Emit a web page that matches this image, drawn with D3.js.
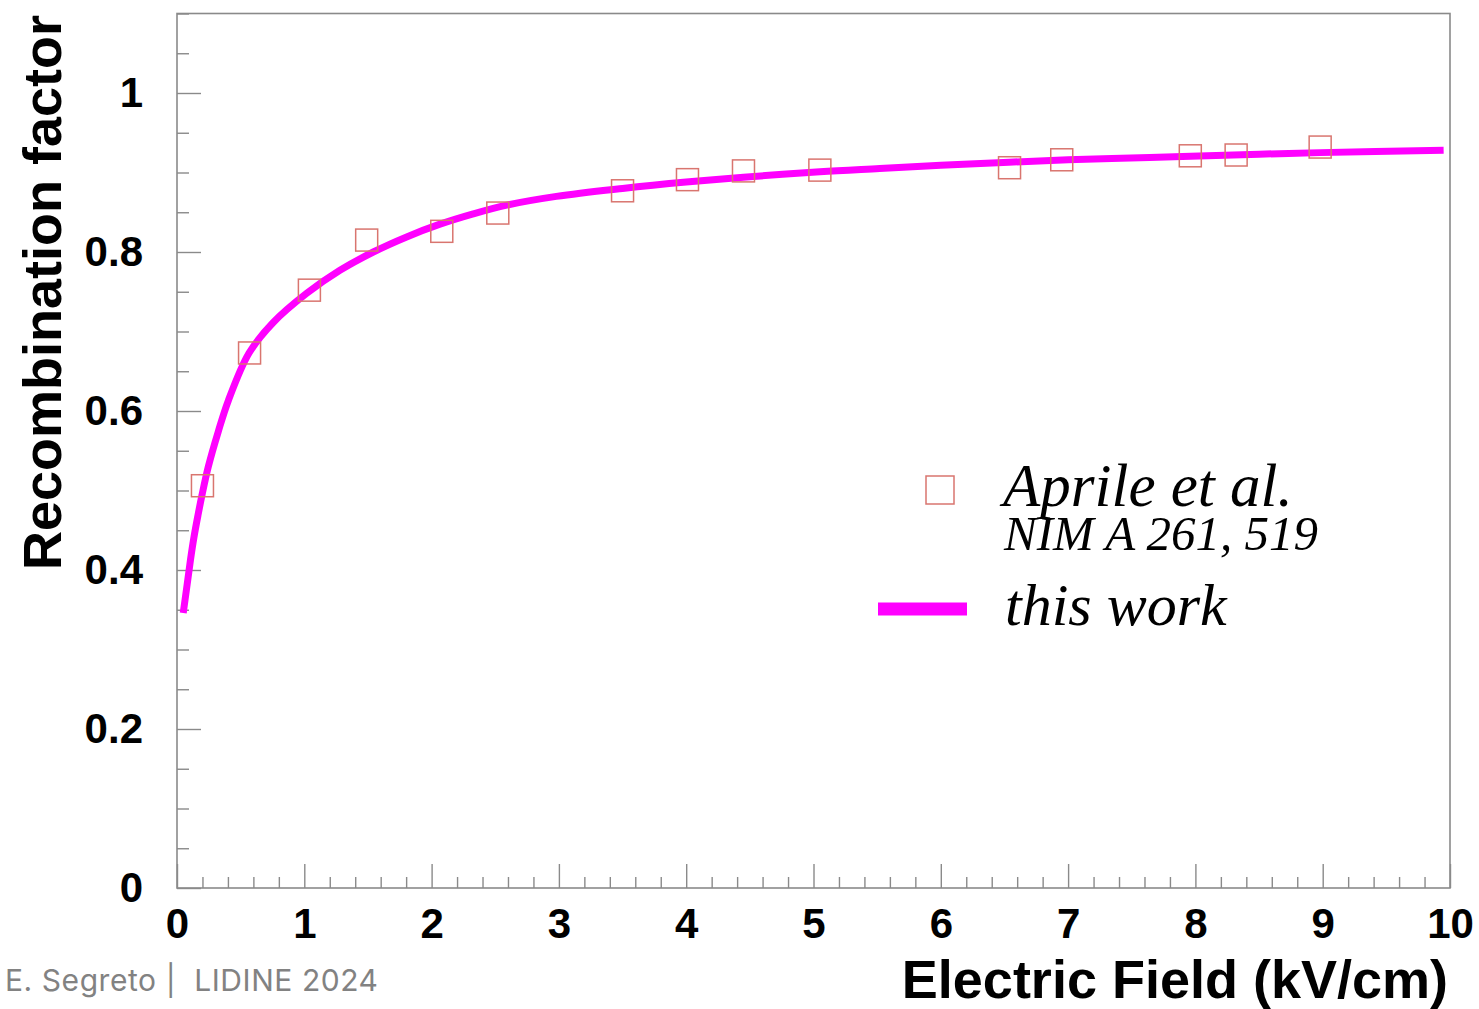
<!DOCTYPE html>
<html>
<head>
<meta charset="utf-8">
<script src="https://cdn.jsdelivr.net/npm/d3@7/dist/d3.min.js"></script>
<style>
  html, body { margin: 0; padding: 0; background: #fff; }
  svg { display: block; }
</style>
</head>
<body>
<svg id="chart" width="1479" height="1009"></svg>
<script>
// Measured recombination factor (Aprile et al., NIM A 261, 519)
const aprileField = [0.20, 0.57, 1.04, 1.49, 2.08, 2.52, 3.50, 4.01, 4.45, 5.05, 6.54, 6.95, 7.96, 8.32, 8.98];
const aprileR     = [0.506, 0.673, 0.752, 0.815, 0.826, 0.849, 0.877, 0.891, 0.902, 0.903, 0.906, 0.916, 0.921, 0.922, 0.932];

// Model curve ("this work")
const curveField = [0.049, 0.079, 0.106, 0.134, 0.165, 0.196, 0.246, 0.324, 0.403, 0.566, 0.754, 1.019, 1.28, 1.542, 1.804, 2.066, 2.327, 2.59, 2.98, 3.5, 4.0, 4.45, 5.05, 5.52, 6.0, 7.0, 7.64, 8.5, 8.98, 9.95];
const curveR     = [0.346, 0.381, 0.413, 0.442, 0.469, 0.494, 0.530, 0.574, 0.613, 0.673, 0.711, 0.748, 0.777, 0.800, 0.819, 0.835, 0.848, 0.859, 0.870, 0.880, 0.888, 0.894, 0.901, 0.905, 0.909, 0.916, 0.919, 0.923, 0.925, 0.928];

// Axis ticks
const xMajorTicks = [0, 1, 2, 3, 4, 5, 6, 7, 8, 9, 10];
const yMajorTicks = [0, 0.2, 0.4, 0.6, 0.8, 1];
const yTickLabels = ["0", "0.2", "0.4", "0.6", "0.8", "1"];

(function draw() {
  const svg = d3.select("#chart");
  const plotLeft = 177, plotRight = 1450, plotTop = 13.5, plotBottom = 888;

  const x = d3.scaleLinear().domain([0, 10]).range([plotLeft, plotRight]);
  const y = d3.scaleLinear().domain([0, 1.1]).range([plotBottom, plotTop]);

  const frameColor = "#8a8a8a";
  const tickFont = "'Liberation Sans', Arial, Helvetica, sans-serif";

  // Frame
  svg.append("rect")
    .attr("x", plotLeft).attr("y", plotTop)
    .attr("width", plotRight - plotLeft).attr("height", plotBottom - plotTop)
    .attr("fill", "none").attr("stroke", frameColor).attr("stroke-width", 1.6);

  // X axis: minor ticks every 0.2, major every 1, all pointing into the frame
  const xMinor = d3.range(0, 10.001, 0.2).map(v => +v.toFixed(2)).filter(v => Math.abs(v - Math.round(v)) > 1e-6);
  const gxMinor = svg.append("g").attr("transform", `translate(0,${plotBottom})`)
    .call(d3.axisBottom(x).tickValues(xMinor).tickSize(-11).tickFormat(""));
  const gx = svg.append("g").attr("transform", `translate(0,${plotBottom})`)
    .call(d3.axisBottom(x).tickValues(xMajorTicks).tickSize(-24).tickPadding(20).tickFormat(d3.format("d")));

  // Y axis: minor ticks every 0.05, major every 0.2
  const yMinor = d3.range(0, 1.1001, 0.05).map(v => +v.toFixed(3)).filter(v => Math.abs(v * 5 - Math.round(v * 5)) > 1e-6);
  const gyMinor = svg.append("g").attr("transform", `translate(${plotLeft},0)`)
    .call(d3.axisLeft(y).tickValues(yMinor).tickSize(-12).tickFormat(""));
  const gy = svg.append("g").attr("transform", `translate(${plotLeft},0)`)
    .call(d3.axisLeft(y).tickValues(yMajorTicks).tickSize(-24).tickPadding(34)
      .tickFormat((d, i) => yTickLabels[i]));

  [gx, gxMinor, gy, gyMinor].forEach(g => {
    g.select(".domain").remove();
    g.selectAll(".tick line").attr("stroke", frameColor).attr("stroke-width", 1.4);
    g.selectAll(".tick text")
      .attr("fill", "#000")
      .style("font-family", tickFont)
      .style("font-weight", "bold")
      .style("font-size", "42px");
  });

  // Axis titles
  svg.append("text")
    .attr("x", 1448).attr("y", 998)
    .attr("text-anchor", "end")
    .style("font-family", tickFont).style("font-weight", "bold").style("font-size", "54px")
    .text("Electric Field (kV/cm)");

  svg.append("text")
    .attr("transform", "translate(61,15) rotate(-90)")
    .attr("text-anchor", "end")
    .style("font-family", tickFont).style("font-weight", "bold").style("font-size", "54px")
    .text("Recombination factor");

  // Model curve
  const curveData = curveField.map((f, i) => ({ f, r: curveR[i] }));
  svg.append("path")
    .datum(curveData)
    .attr("fill", "none")
    .attr("stroke", "#ff00ff")
    .attr("stroke-width", 7)
    .attr("stroke-linejoin", "round")
    .attr("d", d3.line().x(d => x(d.f)).y(d => y(d.r)).curve(d3.curveCatmullRom.alpha(0.5)));

  // Measured points as open squares
  const markerColor = "#d9756f";
  const sq = 22;
  svg.append("g").selectAll("rect")
    .data(aprileField.map((f, i) => ({ f, r: aprileR[i] })))
    .join("rect")
    .attr("x", d => x(d.f) - sq / 2)
    .attr("y", d => y(d.r) - sq / 2)
    .attr("width", sq).attr("height", sq)
    .attr("fill", "none")
    .attr("stroke", markerColor)
    .attr("stroke-width", 1.5);

  // Legend
  const legendFont = "'Liberation Serif', 'Times New Roman', serif";
  const lg = svg.append("g");
  lg.append("rect")
    .attr("x", 926).attr("y", 476).attr("width", 28).attr("height", 28)
    .attr("fill", "none").attr("stroke", markerColor).attr("stroke-width", 1.5);
  lg.append("text")
    .attr("x", 1003).attr("y", 506)
    .style("font-family", legendFont).style("font-style", "italic").style("font-size", "61px")
    .text("Aprile et al.");
  lg.append("text")
    .attr("x", 1004).attr("y", 550)
    .style("font-family", legendFont).style("font-style", "italic").style("font-size", "49px")
    .text("NIM A 261, 519");
  lg.append("line")
    .attr("x1", 878).attr("x2", 967).attr("y1", 609).attr("y2", 609)
    .attr("stroke", "#ff00ff").attr("stroke-width", 13);
  lg.append("text")
    .attr("x", 1005).attr("y", 625)
    .style("font-family", legendFont).style("font-style", "italic").style("font-size", "60px")
    .text("this work");

  // Footer
  svg.append("text")
    .attr("x", 5).attr("y", 991)
    .attr("fill", "#828282")
    .attr("textLength", 373).attr("lengthAdjust", "spacing")
    .style("font-family", "Inter, Roboto, 'Liberation Sans', sans-serif").style("font-size", "30px")
    .style("white-space", "pre")
    .text("E. Segreto |  LIDINE 2024");
})();
</script>
</body>
</html>
